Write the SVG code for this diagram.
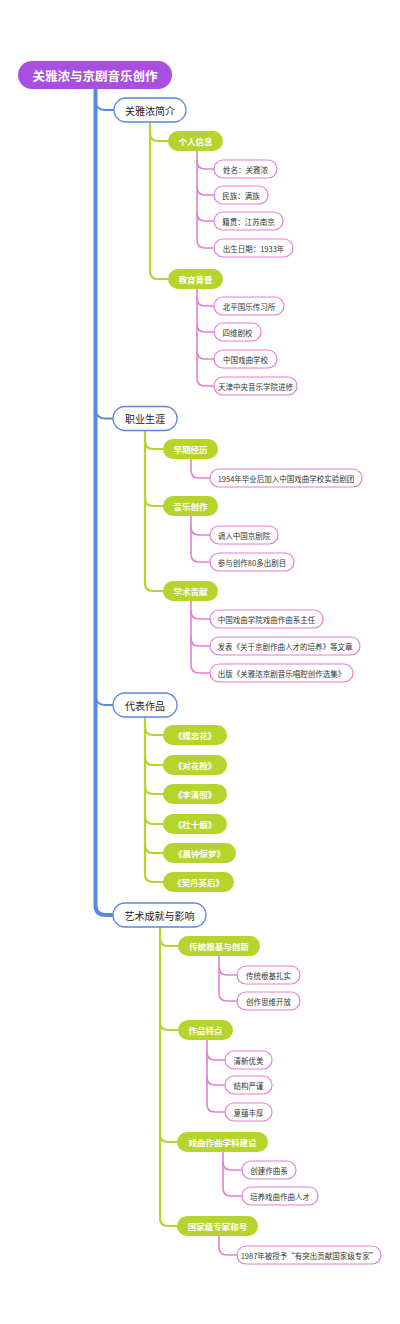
<svg xmlns="http://www.w3.org/2000/svg" width="400" height="1324" viewBox="0 0 400 1324">
<style>
text{font-family:"Noto Sans CJK SC","Liberation Sans",sans-serif;dominant-baseline:central;text-anchor:middle}
.root rect{fill:#a94fe0}
.root text{fill:#fff;font-size:12.5px;font-weight:bold}
.l1 rect{fill:#fff;stroke:#5a87e1;stroke-width:1.3}
.l1 text{fill:#222;font-size:10px}
.l2 rect{fill:#b6d52c}
.l2 text{fill:#fff;font-size:8.5px;font-weight:bold}
.l3 rect{fill:#fff;stroke:#e67fd2;stroke-width:1.2}
.l3 text{fill:#333;font-size:7.5px}
.cb{fill:none;stroke:#5a87e1;stroke-linecap:round}
.cg{fill:none;stroke:#b6d52c;stroke-width:2.2;stroke-linecap:round}
.cp{fill:none;stroke:#e67fd2;stroke-width:1.6;stroke-linecap:round}
</style>
<rect width="400" height="1324" fill="#fff"/>
<g id="connectors">
<!-- blue trunk -->
<path class="cb" stroke-width="4" d="M95.5,89 L95.5,905 Q95.5,915 105.5,915 L113,915"/>
<path class="cb" stroke-width="2" d="M95.5,101 Q96,110 105,110 L114,110"/>
<path class="cb" stroke-width="2" d="M95.5,409 Q96,418.5 105,418.5 L113,418.5"/>
<path class="cb" stroke-width="2" d="M95.5,696 Q96,705 105,705 L113,705"/>
<!-- green: 关雅浓简介 -->
<path class="cg" d="M150,122 L150,271 Q150,279 158,279 L168,279"/>
<path class="cg" d="M150,133 Q150,141 158,141 L168,141"/>
<!-- green: 职业生涯 -->
<path class="cg" d="M145,430.5 L145,583 Q145,591 153,591 L163,591"/>
<path class="cg" d="M145,441 Q145,449 153,449 L163,449"/>
<path class="cg" d="M145,498 Q145,506 153,506 L163,506"/>
<!-- green: 代表作品 -->
<path class="cg" d="M145,717 L145,874 Q145,882 153,882 L163,882"/>
<path class="cg" d="M145,727 Q145,735 153,735 L163,735"/>
<path class="cg" d="M145,757 Q145,765 153,765 L163,765"/>
<path class="cg" d="M145,786 Q145,794 153,794 L163,794"/>
<path class="cg" d="M145,816 Q145,824 153,824 L163,824"/>
<path class="cg" d="M145,845 Q145,853 153,853 L163,853"/>
<!-- green: 艺术成就与影响 -->
<path class="cg" d="M160,927 L160,1218 Q160,1226 168,1226 L177,1226"/>
<path class="cg" d="M160,938 Q160,946 168,946 L178,946"/>
<path class="cg" d="M160,1022 Q160,1030 168,1030 L178,1030"/>
<path class="cg" d="M160,1134 Q160,1142 168,1142 L177,1142"/>
<!-- pink: 个人信息 -->
<path class="cp" d="M197,151 L197,240 Q197,248 205,248 L214,248"/>
<path class="cp" d="M197,161 Q197,169 205,169 L214,169"/>
<path class="cp" d="M197,187 Q197,195 205,195 L214,195"/>
<path class="cp" d="M197,213 Q197,221 205,221 L214,221"/>
<!-- pink: 教育背景 -->
<path class="cp" d="M197,289 L197,378 Q197,386 205,386 L214,386"/>
<path class="cp" d="M197,298 Q197,306 205,306 L214,306"/>
<path class="cp" d="M197,324 Q197,332 205,332 L214,332"/>
<path class="cp" d="M197,351 Q197,359 205,359 L214,359"/>
<!-- pink: 早期经历 -->
<path class="cp" d="M191,459 L191,470 Q191,478 199,478 L210,478"/>
<!-- pink: 音乐创作 -->
<path class="cp" d="M191,516 L191,554 Q191,562 199,562 L210,562"/>
<path class="cp" d="M191,527 Q191,535 199,535 L210,535"/>
<!-- pink: 学术贡献 -->
<path class="cp" d="M191,601 L191,665 Q191,673 199,673 L210,673"/>
<path class="cp" d="M191,611 Q191,619 199,619 L210,619"/>
<path class="cp" d="M191,638 Q191,646 199,646 L210,646"/>
<!-- pink: 传统根基与创新 -->
<path class="cp" d="M219,956 L219,993 Q219,1001 227,1001 L237,1001"/>
<path class="cp" d="M219,967 Q219,975 227,975 L237,975"/>
<!-- pink: 作品特点 -->
<path class="cp" d="M207,1040 L207,1104 Q207,1112 215,1112 L225,1112"/>
<path class="cp" d="M207,1052 Q207,1060 215,1060 L225,1060"/>
<path class="cp" d="M207,1077 Q207,1085 215,1085 L225,1085"/>
<!-- pink: 戏曲作曲学科建设 -->
<path class="cp" d="M223,1152 L223,1188 Q223,1196 231,1196 L242,1196"/>
<path class="cp" d="M223,1162 Q223,1170 231,1170 L242,1170"/>
<!-- pink: 国家级专家称号 -->
<path class="cp" d="M219,1236 L219,1247 Q219,1255 227,1255 L237,1255"/>
</g>
<g id="root" class="root"><rect x="18" y="61" width="154" height="28" rx="14"/><text x="95" y="75">关雅浓与京剧音乐创作</text></g>

<g id="n1" class="l1"><rect x="114" y="98" width="72" height="24" rx="12"/><text x="150" y="110">关雅浓简介</text></g>
<g id="n2" class="l1"><rect x="113" y="406.5" width="64" height="24" rx="12"/><text x="145" y="418.5">职业生涯</text></g>
<g id="n3" class="l1"><rect x="113" y="693" width="64" height="24" rx="12"/><text x="145" y="705">代表作品</text></g>
<g id="n4" class="l1"><rect x="113" y="903" width="93" height="24" rx="12"/><text x="159.5" y="915">艺术成就与影响</text></g>

<g id="n1a" class="l2"><rect x="168" y="131" width="55" height="20" rx="10"/><text x="195.5" y="141">个人信息</text></g>
<g id="n1b" class="l2"><rect x="168" y="269" width="55" height="20" rx="10"/><text x="195.5" y="279">教育背景</text></g>
<g id="n2a" class="l2"><rect x="163" y="439" width="55" height="20" rx="10"/><text x="190.5" y="449">早期经历</text></g>
<g id="n2b" class="l2"><rect x="163" y="496" width="55" height="20" rx="10"/><text x="190.5" y="506">音乐创作</text></g>
<g id="n2c" class="l2"><rect x="163" y="581" width="55" height="20" rx="10"/><text x="190.5" y="591">学术贡献</text></g>
<g id="n3a" class="l2"><rect x="163" y="725" width="64" height="20" rx="10"/><text x="195" y="735">《蝶恋花》</text></g>
<g id="n3b" class="l2"><rect x="163" y="755" width="64" height="20" rx="10"/><text x="195" y="765">《对花枪》</text></g>
<g id="n3c" class="l2"><rect x="163" y="784" width="64" height="20" rx="10"/><text x="195" y="794">《李清照》</text></g>
<g id="n3d" class="l2"><rect x="163" y="814" width="64" height="20" rx="10"/><text x="195" y="824">《杜十娘》</text></g>
<g id="n3e" class="l2"><rect x="163" y="843" width="73" height="20" rx="10"/><text x="199.5" y="853">《晨钟惊梦》</text></g>
<g id="n3f" class="l2"><rect x="163" y="872" width="71" height="20" rx="10"/><text x="198.5" y="882">《契丹英后》</text></g>
<g id="n4a" class="l2"><rect x="178" y="936" width="82" height="20" rx="10"/><text x="219" y="946">传统根基与创新</text></g>
<g id="n4b" class="l2"><rect x="178" y="1020" width="55" height="20" rx="10"/><text x="205.5" y="1030">作品特点</text></g>
<g id="n4c" class="l2"><rect x="177" y="1132" width="91" height="20" rx="10"/><text x="222.5" y="1142">戏曲作曲学科建设</text></g>
<g id="n4d" class="l2"><rect x="177" y="1216" width="81" height="20" rx="10"/><text x="217.5" y="1226">国家级专家称号</text></g>

<g id="l3-1" class="l3"><rect x="214" y="160" width="63" height="18" rx="9"/><text x="245.5" y="169">姓名：关雅浓</text></g>
<g id="l3-2" class="l3"><rect x="214" y="186" width="54" height="18" rx="9"/><text x="241" y="195">民族：满族</text></g>
<g id="l3-3" class="l3"><rect x="214" y="212" width="69" height="18" rx="9"/><text x="248.5" y="221">籍贯：江苏南京</text></g>
<g id="l3-4" class="l3"><rect x="214" y="239" width="79" height="18" rx="9"/><text x="253.5" y="248">出生日期：1933年</text></g>
<g id="l3-5" class="l3"><rect x="214" y="297" width="70" height="18" rx="9"/><text x="249" y="306">北平国乐传习所</text></g>
<g id="l3-6" class="l3"><rect x="214" y="323" width="47" height="18" rx="9"/><text x="237.5" y="332">四维剧校</text></g>
<g id="l3-7" class="l3"><rect x="214" y="350" width="63" height="18" rx="9"/><text x="245.5" y="359">中国戏曲学校</text></g>
<g id="l3-8" class="l3"><rect x="214" y="377" width="83" height="18" rx="9"/><text x="255.5" y="386">天津中央音乐学院进修</text></g>
<g id="l3-9" class="l3"><rect x="210" y="469" width="152" height="18" rx="9"/><text x="286" y="478">1954年毕业后加入中国戏曲学校实验剧团</text></g>
<g id="l3-10" class="l3"><rect x="210" y="526" width="68" height="18" rx="9"/><text x="244" y="535">调入中国京剧院</text></g>
<g id="l3-11" class="l3"><rect x="210" y="553" width="84" height="18" rx="9"/><text x="252" y="562">参与创作80多出剧目</text></g>
<g id="l3-12" class="l3"><rect x="210" y="610" width="113" height="18" rx="9"/><text x="266.5" y="619">中国戏曲学院戏曲作曲系主任</text></g>
<g id="l3-13" class="l3"><rect x="210" y="637" width="150" height="18" rx="9"/><text x="285" y="646">发表《关于京剧作曲人才的培养》等文章</text></g>
<g id="l3-14" class="l3"><rect x="210" y="664" width="143" height="18" rx="9"/><text x="281.5" y="673">出版《关雅浓京剧音乐唱腔创作选集》</text></g>
<g id="l3-15" class="l3"><rect x="237" y="966" width="63" height="18" rx="9"/><text x="268.5" y="975">传统根基扎实</text></g>
<g id="l3-16" class="l3"><rect x="237" y="992" width="63" height="18" rx="9"/><text x="268.5" y="1001">创作思维开放</text></g>
<g id="l3-17" class="l3"><rect x="225" y="1051" width="47" height="18" rx="9"/><text x="248.5" y="1060">清新优美</text></g>
<g id="l3-18" class="l3"><rect x="225" y="1076" width="47" height="18" rx="9"/><text x="248.5" y="1085">结构严谨</text></g>
<g id="l3-19" class="l3"><rect x="225" y="1103" width="47" height="18" rx="9"/><text x="248.5" y="1112">意蕴丰厚</text></g>
<g id="l3-20" class="l3"><rect x="242" y="1161" width="54" height="18" rx="9"/><text x="269" y="1170">创建作曲系</text></g>
<g id="l3-21" class="l3"><rect x="242" y="1187" width="76" height="18" rx="9"/><text x="280" y="1196">培养戏曲作曲人才</text></g>
<g id="l3-22" class="l3"><rect x="237" y="1246" width="144" height="18" rx="9"/><text x="309" y="1255">1987年被授予“有突出贡献国家级专家”</text></g>
</svg>
